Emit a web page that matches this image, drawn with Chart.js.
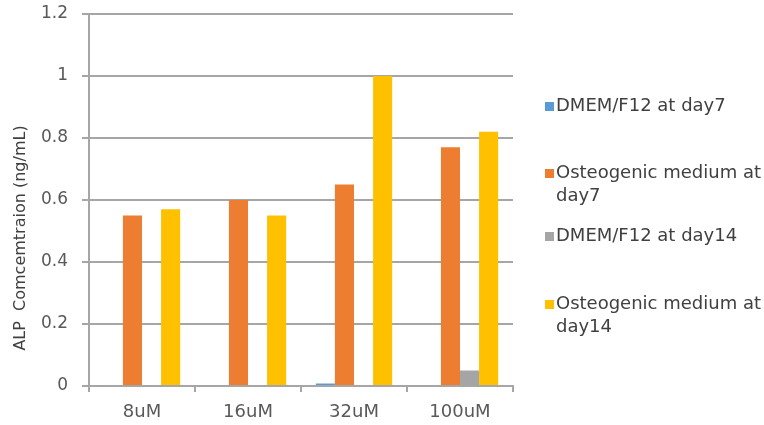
<!DOCTYPE html>
<html>
<head>
<meta charset="utf-8">
<script src="https://cdn.jsdelivr.net/npm/chart.js@4"></script>
<style>
  html, body { margin: 0; padding: 0; background: #ffffff; }
  #wrap { width: 764px; height: 425px; position: relative; }
</style>
</head>
<body>
<div id="wrap"><canvas id="c" width="764" height="425"></canvas></div>
<script>
// Concentration groups along the x axis
const categories = ['8uM', '16uM', '32uM', '100uM'];

// Series names (shown in the side legend)
const seriesNames = [
  'DMEM/F12 at day7',
  'Osteogenic medium at day7',
  'DMEM/F12 at day14',
  'Osteogenic medium at day14'
];

// ALP concentration (ng/mL) per series
const dmemDay7 = [0, 0, 0.008, 0];
const osteoDay7 = [0.55, 0.60, 0.65, 0.77];
const dmemDay14 = [0, 0, 0, 0.05];
const osteoDay14 = [0.57, 0.55, 1.00, 0.82];

// Value axis ticks and title
const yTicks = [0, 0.2, 0.4, 0.6, 0.8, 1, 1.2];
const yTitle = 'ALP  Comcemtraion (ng/mL)';

const seriesColors = ['#5B9BD5', '#ED7D31', '#A5A5A5', '#FFC000'];
const seriesValues = [dmemDay7, osteoDay7, dmemDay14, osteoDay14];

const GRID = '#a6a6a6';
const FONT = '"DejaVu Sans", sans-serif';

// Rotated y-axis title, drawn left of the tick labels
const yTitlePlugin = {
  id: 'yTitle',
  afterDraw(chart) {
    const ctx = chart.ctx;
    ctx.save();
    ctx.translate(21, 238);
    ctx.rotate(-Math.PI / 2);
    ctx.font = '16px ' + FONT;
    ctx.fillStyle = '#404040';
    ctx.textAlign = 'center';
    ctx.textBaseline = 'middle';
    ctx.fillText(yTitle, 0, 0);
    ctx.restore();
  }
};

// Legend to the right of the plot, with entries wrapped to the free width
function wrapText(ctx, text, maxWidth) {
  const words = text.split(' ');
  const lines = [];
  let line = '';
  words.forEach(w => {
    const test = line ? line + ' ' + w : w;
    if (ctx.measureText(test).width > maxWidth && line) {
      lines.push(line);
      line = w;
    } else {
      line = test;
    }
  });
  if (line) lines.push(line);
  return lines;
}

const sideLegendPlugin = {
  id: 'sideLegend',
  afterDraw(chart) {
    const ctx = chart.ctx;
    const rowY = [106, 173, 236, 304];
    const markX = 545, textX = 556, lineH = 23;
    ctx.save();
    ctx.font = '18px ' + FONT;
    ctx.textBaseline = 'middle';
    ctx.textAlign = 'left';
    chart.data.datasets.forEach((ds, i) => {
      ctx.fillStyle = ds.backgroundColor;
      ctx.fillRect(markX, rowY[i] - 4, 9, 9);
      ctx.fillStyle = '#404040';
      wrapText(ctx, ds.label, 212).forEach((ln, j) => {
        ctx.fillText(ln, textX, rowY[i] + j * lineH);
      });
    });
    ctx.restore();
  }
};

new Chart(document.getElementById('c'), {
  type: 'bar',
  data: {
    labels: categories,
    datasets: seriesNames.map((name, i) => ({
      label: name,
      data: seriesValues[i],
      backgroundColor: seriesColors[i],
      borderWidth: 0,
      categoryPercentage: 0.72,
      barPercentage: 1.0
    }))
  },
  options: {
    responsive: false,
    animation: false,
    devicePixelRatio: 1,
    layout: { padding: { top: 14, right: 251, left: 0, bottom: 0 } },
    plugins: {
      legend: { display: false },
      tooltip: { enabled: false },
      title: { display: false }
    },
    scales: {
      x: {
        offset: true,
        grid: {
          offset: true,
          drawOnChartArea: false,
          drawTicks: true,
          tickLength: 6,
          color: GRID,
          lineWidth: 2
        },
        border: { display: true, color: GRID, width: 2 },
        ticks: {
          color: '#595959',
          font: { family: FONT, size: 18 },
          padding: 10,
          maxRotation: 0
        },
        afterFit(scale) {
          scale.height = 39;
          scale.paddingLeft = 0;
          scale.paddingRight = 0;
        }
      },
      y: {
        min: 0,
        max: 1.2,
        afterBuildTicks(scale) { scale.ticks = yTicks.map(v => ({ value: v })); },
        grid: {
          color: GRID,
          lineWidth: 2,
          drawTicks: true,
          tickLength: 7
        },
        border: { display: true, color: GRID, width: 2 },
        ticks: {
          color: '#595959',
          font: { family: FONT, size: 17 },
          padding: 14,
          callback: v => String(v)
        },
        afterFit(scale) {
          scale.width = 89;
          scale.paddingTop = 0;
          scale.paddingBottom = 0;
        }
      }
    }
  },
  plugins: [yTitlePlugin, sideLegendPlugin]
});
</script>
</body>
</html>
